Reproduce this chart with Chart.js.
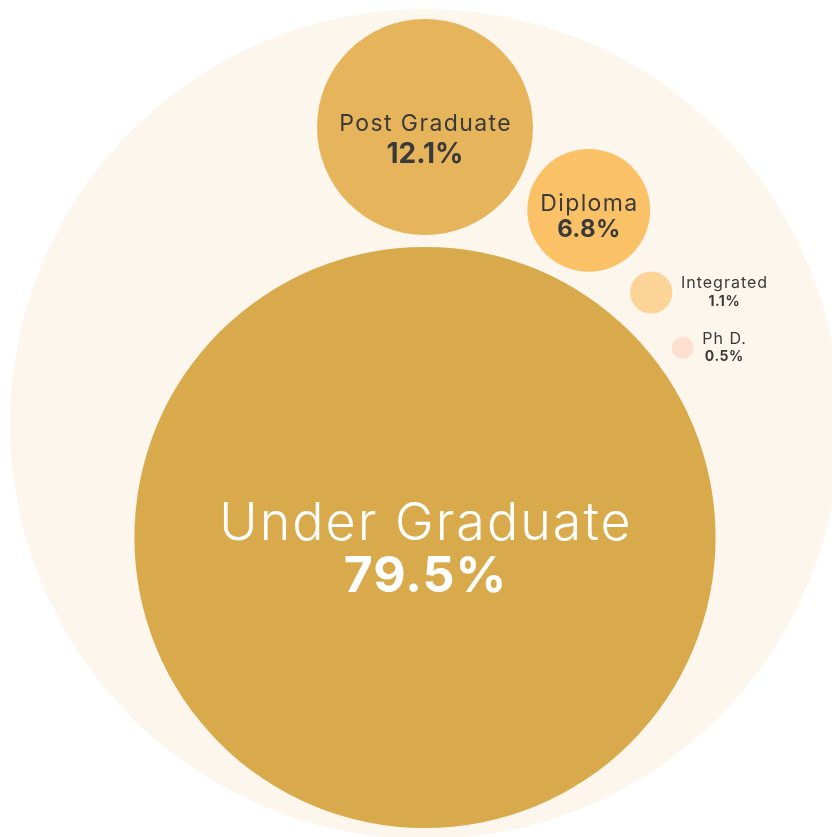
<!DOCTYPE html>
<html>
<head>
<meta charset="utf-8">
<title>Education level share</title>
<script src="https://cdn.jsdelivr.net/npm/chart.js@4.4.1/dist/chart.umd.min.js"></script>
<style>
  html, body { margin: 0; padding: 0; background: #ffffff; }
  #wrap { position: relative; width: 832px; height: 837px; }
</style>
</head>
<body>
<div id="wrap"><canvas id="chart-bubbles"></canvas></div>
<script>
// data
const categories = ['Under Graduate', 'Post Graduate', 'Diploma', 'Integrated', 'Ph D.'];
const shares = [79.5, 12.1, 6.8, 1.1, 0.5];

// packed layout, in units where the outer circle has radius 100
const layoutX = [0, 0, 39.45, 54.51, 62.1];
const layoutY = [-27.35, 71.57, 51.49, 31.69, 18.36];
const layoutR = [70.02, 26.02, 14.8, 5.08, 2.65];
const outerR = 100;

const fills = ['#d9aa4b', '#e6b45a', '#fbc167', '#fdd498', '#fde0cf'];
const outerFill = '#fdf6ec';
const FONT = 'Inter, "Open Sans", sans-serif';

// label styling per bubble
const labelStyle = [
  { nameSize: 52, nameWeight: 300, nameSpacing: 2, valueSize: 50, valueSpacing: 1, color: '#ffffff', dx: 0, dy1: 2.5, dy2: 54 },
  { nameSize: 23, nameWeight: 400, nameSpacing: 1.4, valueSize: 28, valueSpacing: 0, color: '#3a3a3a', dx: 0, dy1: 3.7, dy2: 36 },
  { nameSize: 23, nameWeight: 400, nameSpacing: 1.4, valueSize: 24, valueSpacing: 0.3, color: '#3a3a3a', dx: 0, dy1: 0.7, dy2: 27 },
  { nameSize: 16, nameWeight: 400, nameSpacing: 1, valueSize: 14, valueSpacing: 0.5, color: '#3a3a3a', dx: 72.8, dy1: -4.2, dy2: 13.2 },
  { nameSize: 16, nameWeight: 400, nameSpacing: 1, valueSize: 14, valueSpacing: 0.5, color: '#3a3a3a', dx: 41.3, dy1: -3.8, dy2: 13 }
];

const pxPerUnit = 4.15;
const centerPx = { x: 425, y: 424 };

const bubbleLabels = {
  id: 'bubbleLabels',
  afterDatasetsDraw(chart) {
    const { ctx } = chart;
    const meta = chart.getDatasetMeta(0);
    ctx.save();
    ctx.textAlign = 'center';
    ctx.textBaseline = 'alphabetic';
    meta.data.forEach((el, i) => {
      const st = labelStyle[i];
      const x = el.x + st.dx;
      ctx.fillStyle = st.color;
      ctx.font = `${st.nameWeight} ${st.nameSize}px ${FONT}`;
      ctx.letterSpacing = `${st.nameSpacing}px`;
      ctx.fillText(categories[i], x + st.nameSpacing / 2, el.y + st.dy1);
      ctx.font = `700 ${st.valueSize}px ${FONT}`;
      ctx.letterSpacing = `${st.valueSpacing}px`;
      ctx.fillText(`${shares[i]}%`, x + st.valueSpacing / 2, el.y + st.dy2);
    });
    ctx.restore();
  }
};

(function init() {
  new Chart(document.getElementById('chart-bubbles'), {
    type: 'bubble',
    data: {
      labels: categories,
      datasets: [
        {
          label: 'Share',
          order: 0,
          data: categories.map((c, i) => ({ x: layoutX[i], y: layoutY[i], r: layoutR[i] * pxPerUnit })),
          backgroundColor: fills,
          hoverBackgroundColor: fills,
          borderWidth: 0,
          hoverBorderWidth: 0,
          hoverRadius: 0,
          clip: false
        },
        {
          label: 'All',
          order: 1,
          data: [{ x: 0, y: 0, r: outerR * pxPerUnit }],
          backgroundColor: outerFill,
          borderWidth: 0,
          hoverBorderWidth: 0,
          hoverRadius: 0,
          clip: false
        }
      ]
    },
    options: {
      responsive: true,
      maintainAspectRatio: false,
      animation: false,
      events: [],
      layout: { padding: 0, autoPadding: false },
      plugins: { legend: { display: false }, tooltip: { enabled: false } },
      scales: {
        x: { type: 'linear', display: false, min: -centerPx.x / pxPerUnit, max: (832 - centerPx.x) / pxPerUnit },
        y: { type: 'linear', display: false, min: (centerPx.y - 837) / pxPerUnit, max: centerPx.y / pxPerUnit }
      }
    },
    plugins: [bubbleLabels]
  });
})();
</script>
</body>
</html>
